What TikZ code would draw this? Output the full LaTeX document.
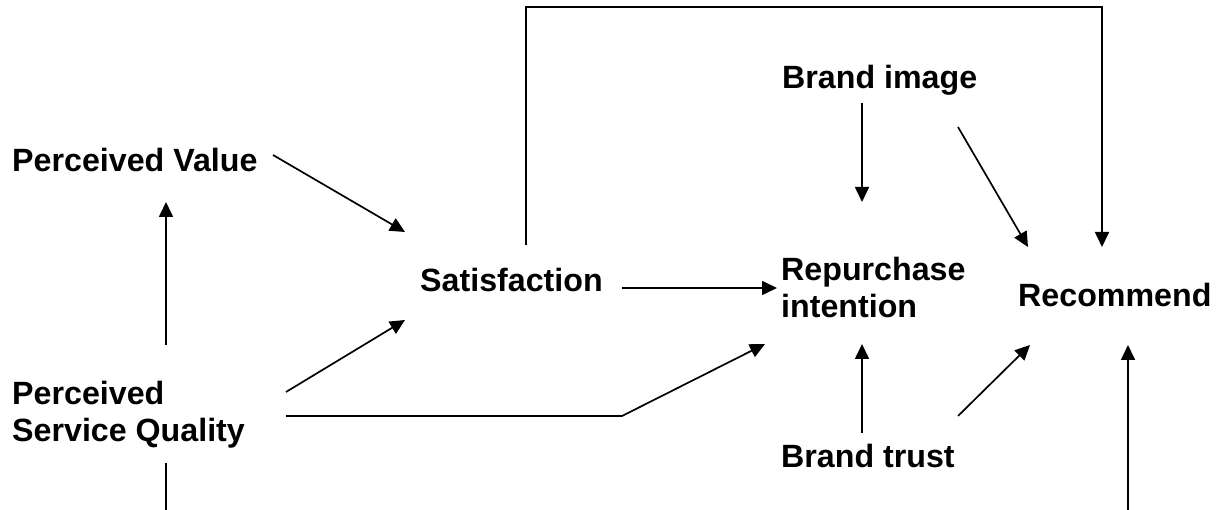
\documentclass[tikz,border=0pt]{standalone}
\usepackage{fontspec}
\setmainfont{Liberation Sans}
\usetikzlibrary{arrows.meta}
\begin{document}
\begin{tikzpicture}[x=1pt,y=-1pt,
  lbl/.style={font=\bfseries\fontsize{32.2}{37}\selectfont, inner sep=0pt, align=left, anchor=base west},
  conn/.style={line width=1.7pt},
  arr/.style={conn, -{Triangle[length=15pt,width=14pt]}}]
\useasboundingbox[fill=white] (0,0) rectangle (1226,510);
% labels (base west = baseline of the last line)
\node[lbl] (pv)  at (12,172)  {Perceived Value};
\node[lbl] (psq) at (12,441)  {Perceived\\Service Quality};
\node[lbl] (sat) at (420,292) {Satisfaction};
\node[lbl] (rep) at (781,318) {Repurchase\\intention};
\node[lbl] (rec) at (1018,307) {Recommend};
\node[lbl] (bi)  at (782,89)  {Brand image};
\node[lbl] (bt)  at (781,467) {Brand trust};
% connector end points
\coordinate (pvA) at (273,155);  \coordinate (pvB) at (405,232);
\coordinate (pqU1) at (166,345); \coordinate (pqU2) at (166,202);
\coordinate (pqS1) at (286,392); \coordinate (pqS2) at (405,320);
\coordinate (pqR1) at (286,416); \coordinate (pqBend) at (622,416); \coordinate (pqR2) at (765,344);
\coordinate (pqD1) at (166,463); \coordinate (pqD2) at (166,510);
\coordinate (sR1) at (622,288);  \coordinate (sR2) at (777,288);
\coordinate (sT1) at (526,245);  \coordinate (sT2) at (526,7);
\coordinate (sT3) at (1102,7);   \coordinate (sT4) at (1102,247);
\coordinate (biR1) at (862,103); \coordinate (biR2) at (862,202);
\coordinate (biC1) at (958,127); \coordinate (biC2) at (1028,247);
\coordinate (btR1) at (862,433); \coordinate (btR2) at (862,344);
\coordinate (btC1) at (958,416); \coordinate (btC2) at (1030,345);
\coordinate (rcU1) at (1128,510); \coordinate (rcU2) at (1128,345);
% connectors
\draw[arr] (pvA) -- (pvB);
\draw[arr] (pqU1) -- (pqU2);
\draw[arr] (pqS1) -- (pqS2);
\draw[arr] (pqR1) -- (pqBend) -- (pqR2);
\draw[conn] (pqD1) -- (pqD2);
\draw[arr] (sR1) -- (sR2);
\draw[arr] (sT1) -- (sT2) -- (sT3) -- (sT4);
\draw[arr] (biR1) -- (biR2);
\draw[arr] (biC1) -- (biC2);
\draw[arr] (btR1) -- (btR2);
\draw[arr] (btC1) -- (btC2);
\draw[arr] (rcU1) -- (rcU2);
\end{tikzpicture}
\end{document}
